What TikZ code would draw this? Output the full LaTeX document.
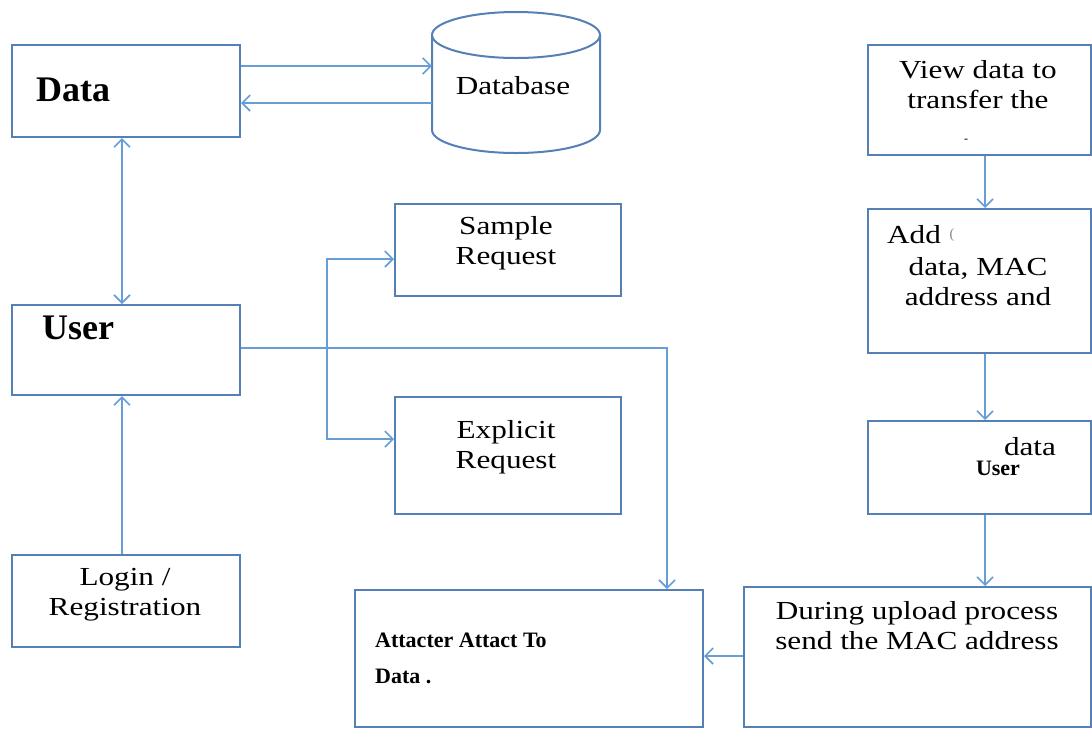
\documentclass[tikz,border=0pt]{standalone}
\usepackage{fontspec}
\setmainfont{Liberation Serif}
\newfontfamily\widefont{Liberation Serif}[FakeStretch=1.2]
\usetikzlibrary{arrows.meta}
\definecolor{boxline}{RGB}{84,128,182}
\definecolor{linkline}{RGB}{104,158,216}
\begin{document}
\begin{tikzpicture}[x=1pt,y=-1pt,
  box/.style={draw=boxline,line width=2pt,fill=white,rectangle,inner sep=0pt},
  link/.style={draw=linkline,line width=1.6pt},
  arr/.style={link,-{Straight Barb[length=8pt,width=16pt,line width=1.6pt]}},
  darr/.style={link,{Straight Barb[length=8pt,width=16pt,line width=1.6pt]}-{Straight Barb[length=8pt,width=16pt,line width=1.6pt]}},
  txt/.style={inner sep=0pt,align=center,font=\widefont\fontsize{26}{30}\selectfont},
  bigbold/.style={inner sep=0pt,font=\fontsize{36}{40}\selectfont\bfseries},
  smallbold/.style={inner sep=0pt,font=\fontsize{22}{26}\selectfont\bfseries}]
\useasboundingbox (0,0) rectangle (1092,729);
\fill[white] (0,0) rectangle (1092,729);

% left column
\node[box,minimum width=228pt,minimum height=92pt] (data) at (126,91) {};
\node[box,minimum width=228pt,minimum height=90pt] (user) at (126,350) {};
\node[box,minimum width=228pt,minimum height=92pt] (login) at (126,601) {};
\node[bigbold,anchor=west] (datat) at (36,90) {Data};
\node[bigbold,anchor=west] (usert) at (42,328) {User};
\node[txt] (logint) at (125,595) {Login /\\Registration};

% database cylinder
\node[inner sep=0pt,minimum width=168pt,minimum height=141pt] (db) at (516,82.5) {};
\draw[boxline,line width=2pt,fill=white] (432,35) -- (432,130)
  arc[start angle=180,end angle=360,x radius=84pt,y radius=23pt] -- (600,35);
\draw[boxline,line width=2pt,fill=white] (516,35) ellipse[x radius=84pt,y radius=23pt];
\node[txt] (dbt) at (513,86) {Database};

% request boxes
\node[box,minimum width=226pt,minimum height=92pt] (sample) at (508,250) {};
\node[box,minimum width=226pt,minimum height=117pt] (explicit) at (508,455.5) {};
\node[txt] (samplet) at (506,243) {Sample\\Request};
\node[txt] (explicitt) at (506,447) {Explicit\\Request};

% attacker and upload boxes
\node[box,minimum width=348pt,minimum height=137pt] (attack) at (529,658.5) {};
\node[box,minimum width=347pt,minimum height=140pt] (during) at (917.5,657) {};
\node[smallbold,anchor=west] (attackt1) at (375,640) {Attacter Attact To};
\node[smallbold,anchor=west] (attackt2) at (375,676) {Data .};
\node[txt] (duringt) at (917,626) {During upload process\\send the MAC address};

% right column
\node[box,minimum width=223pt,minimum height=110pt] (view) at (979.5,100) {};
\node[box,minimum width=223pt,minimum height=144pt] (add) at (979.5,281) {};
\node[box,minimum width=223pt,minimum height=93pt] (udata) at (979.5,467.5) {};
\node[txt] (viewt) at (978,85) {View data to\\transfer the};
\node[inner sep=0pt,font=\fontsize{12}{12}\selectfont] (viewmark) at (966,141) {-};
\node[txt,anchor=west] (addt1) at (887,235) {Add};
\node[inner sep=0pt,font=\fontsize{14}{14}\selectfont,text=gray] (addmark) at (952,235) {(};
\node[txt] (addt2) at (978,282) {data, MAC\\address and};
\node[txt] (udatat) at (1030,447) {data};
\node[smallbold] (udatau) at (998,468) {User};

% connectors
\draw[arr] (data.east |- 0,66) -- (db.west |- 0,66);
\draw[arr] (db.west |- 0,103) -- (data.east |- 0,103);
\draw[darr] (data.south -| 122,0) -- (user.north -| 122,0);
\draw[arr] (login.north -| 122,0) -- (user.south -| 122,0);
\draw[arr] (user.east |- 0,348) -| (attack.north -| 667,0);
\coordinate (branch) at (327,348);
\draw[arr] (branch) |- (sample.west |- 0,259);
\draw[arr] (branch) |- (explicit.west |- 0,439);
\draw[arr] (view.south -| 985,0) -- (add.north -| 985,0);
\draw[arr] (add.south -| 985,0) -- (udata.north -| 985,0);
\draw[arr] (udata.south -| 985,0) -- (during.north -| 985,0);
\draw[arr] (during.west |- 0,656) -- (attack.east |- 0,656);
\end{tikzpicture}
\end{document}
